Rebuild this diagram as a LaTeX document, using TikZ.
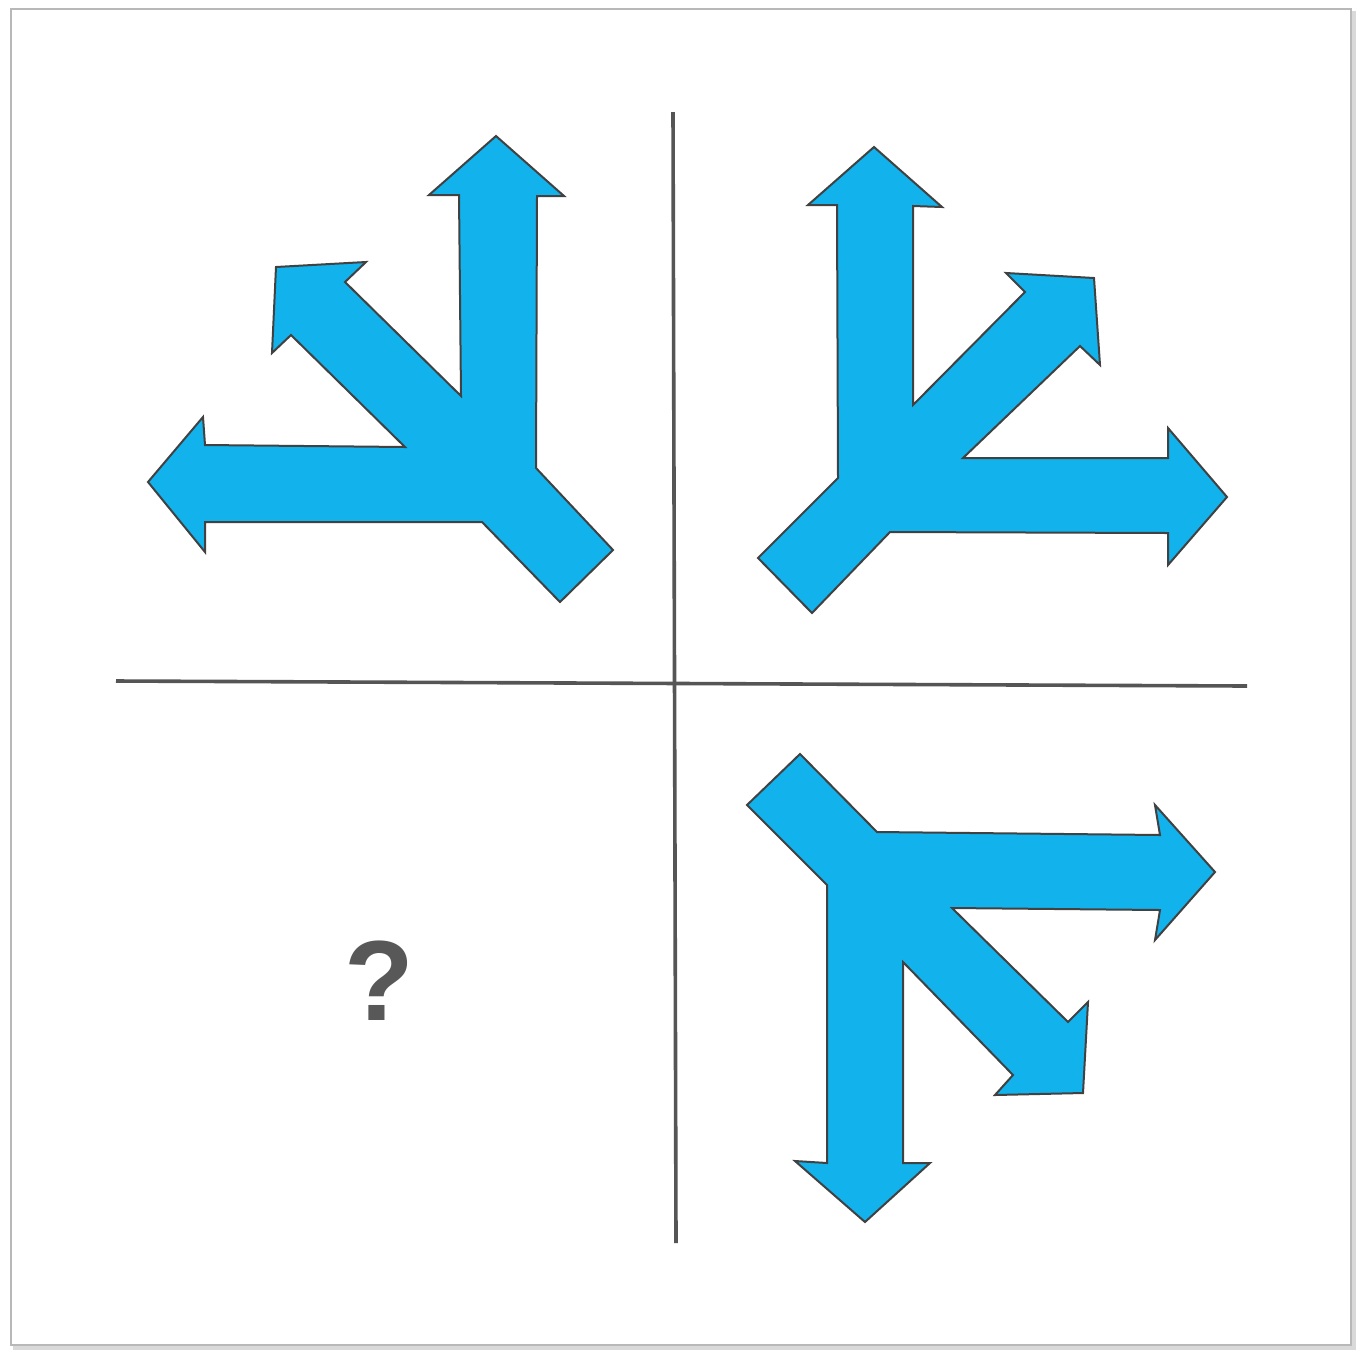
\documentclass[tikz,border=0pt]{standalone}
\usepackage{fontspec}
\setmainfont{Liberation Sans}
\definecolor{arrowblue}{RGB}{18,178,236}
\definecolor{edgegray}{RGB}{65,65,65}
\definecolor{linegray}{RGB}{85,85,85}
\definecolor{qgray}{RGB}{88,88,88}
\tikzset{
  blueshape/.style={fill=arrowblue, draw=edgegray, line width=2pt, line join=miter},
  divider/.style={draw=linegray, line width=3.6pt},
  frameline/.style={draw=black!28, line width=1.5pt},
  frameshadow/.style={draw=black!15, line width=4pt}
}
\begin{document}
\begin{tikzpicture}[x=1pt,y=-1pt]
\useasboundingbox (0,0) rectangle (1362,1361);
\fill[white] (0,0) rectangle (1362,1361);
% frame with soft shadow
\draw[frameshadow] (15,13) rectangle (1354,1348);
\draw[frameline, fill=white] (11,9) rectangle (1351,1345);

% dividers
\coordinate (vt) at (673,112);
\coordinate (vb) at (676,1243);
\coordinate (hl) at (116,681);
\coordinate (hr) at (1247,686);
\draw[divider] (vt) -- (vb);
\draw[divider] (hl) -- (hr);

% top-left figure
\draw[blueshape] (496,136) -- (564,196) -- (537,196) -- (536,468) -- (613,550)
  -- (560,602) -- (482,522) -- (205,522) -- (205,552) -- (148,482) -- (203,417)
  -- (205,445) -- (405,447) -- (291,335) -- (272,353) -- (276,267) -- (366,262)
  -- (345,282) -- (461,396) -- (459,195) -- (429,195) -- cycle;

% top-right figure
\draw[blueshape] (874,147) -- (942,207) -- (913,206) -- (913,405) -- (1025,292)
  -- (1006,273) -- (1094,278) -- (1100,365) -- (1080,346) -- (963,458)
  -- (1168,458) -- (1168,428) -- (1227,497) -- (1168,565) -- (1168,533)
  -- (890,532) -- (812,613) -- (758,558) -- (838,478) -- (837,205) -- (808,205) -- cycle;

% bottom-right figure
\draw[blueshape] (800,754) -- (877,832) -- (1160,835) -- (1155,805) -- (1215,872)
  -- (1155,940) -- (1160,910) -- (952,908) -- (1068,1022) -- (1088,1002)
  -- (1083,1093) -- (995,1095) -- (1013,1075) -- (903,962) -- (903,1163)
  -- (930,1163) -- (865,1222) -- (795,1161) -- (827,1163) -- (827,885) -- (747,805) -- cycle;

% question mark
\node[text=qgray, font=\fontsize{114}{114}\selectfont\bfseries, inner sep=0pt] (q) at (379,981) {?};
\end{tikzpicture}
\end{document}
